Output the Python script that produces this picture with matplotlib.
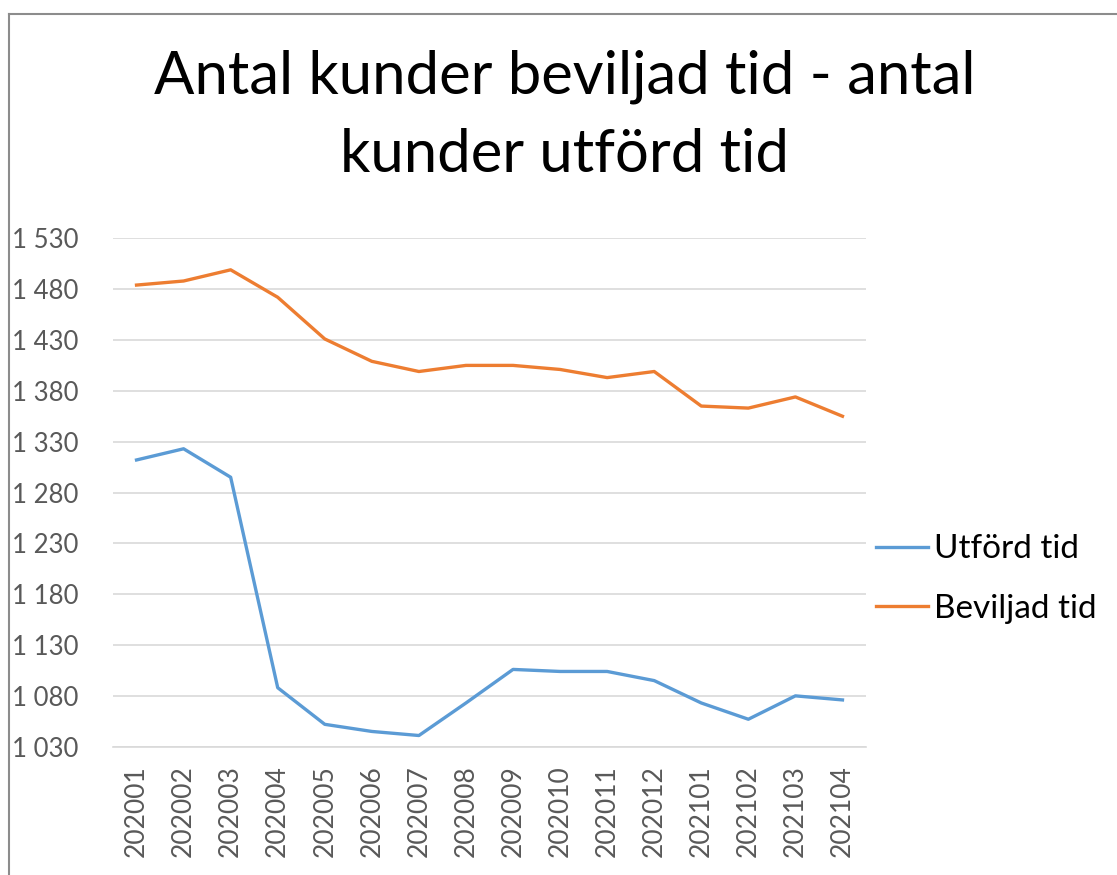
import matplotlib.pyplot as plt
from matplotlib.lines import Line2D
from matplotlib.ticker import FixedLocator, FuncFormatter

plt.rcParams['font.family'] = ['Lato', 'DejaVu Sans']

# data
months = ["202001", "202002", "202003", "202004", "202005", "202006", "202007", "202008",
          "202009", "202010", "202011", "202012", "202101", "202102", "202103", "202104"]
utford = [1312, 1323, 1295, 1088, 1052, 1045, 1041, 1073,
          1106, 1104, 1104, 1095, 1073, 1057, 1080, 1076]
beviljad = [1484, 1488, 1499, 1472, 1431, 1409, 1399, 1405,
            1405, 1401, 1393, 1399, 1365, 1363, 1374, 1355]
yticks = list(range(1030, 1531, 50))
title_lines = ["Antal kunder beviljad tid - antal", "kunder utförd tid"]

W, H = 1117, 875
fig = plt.figure(figsize=(W / 100, H / 100), dpi=100)
ax = fig.add_axes([113 / W, 1 - 746.7 / H, (866 - 113) / W, (746.7 - 238.3) / H])

x = list(range(len(months)))
ax.plot(x, utford, color="#5B9BD5", lw=2.4, label="Utförd tid", solid_joinstyle="round")
ax.plot(x, beviljad, color="#ED7D31", lw=2.4, label="Beviljad tid", solid_joinstyle="round")

ax.set_xlim(-0.5, len(months) - 0.5)
ax.set_ylim(yticks[0], yticks[-1])
ax.yaxis.set_major_locator(FixedLocator(yticks))
ax.yaxis.set_major_formatter(FuncFormatter(lambda v, p: f"{int(v):,}".replace(",", " ")))
ax.set_xticks(x)
ax.set_xticklabels(months, rotation=90)

ax.grid(axis="y", color="#d9d9d9", lw=1.2)
ax.set_axisbelow(True)
for s in ["top", "right", "left"]:
    ax.spines[s].set_visible(False)
ax.spines["bottom"].set_color("#d9d9d9")
ax.spines["bottom"].set_linewidth(1.2)

ax.tick_params(axis="y", length=0, pad=72.7, labelsize=18.5, labelcolor="#595959")
ax.tick_params(axis="x", length=0, pad=13, labelsize=19, labelcolor="#595959")
for lbl in ax.get_yticklabels():
    lbl.set_horizontalalignment("left")

# title, two lines placed on their baselines
fig.text(565 / W, 1 - 93 / H, title_lines[0], ha="center", va="baseline", fontsize=43)
fig.text(565 / W, 1 - 172 / H, title_lines[1], ha="center", va="baseline", fontsize=43)

fig.legend(loc="center left", bbox_to_anchor=(876 / W, 1 - 579 / H), frameon=False,
           fontsize=24, handlelength=1.55, handletextpad=0.2, labelspacing=0.88,
           borderaxespad=0, borderpad=0)

# chart border (left and top edges visible)
fig.add_artist(Line2D([8.5 / W, 8.5 / W], [0, 1 - 14 / H], transform=fig.transFigure,
                      color="#8c8c8c", lw=1.5))
fig.add_artist(Line2D([8.5 / W, 1], [1 - 14 / H, 1 - 14 / H], transform=fig.transFigure,
                      color="#8c8c8c", lw=1.5))

fig.savefig("out.png", dpi=100)
